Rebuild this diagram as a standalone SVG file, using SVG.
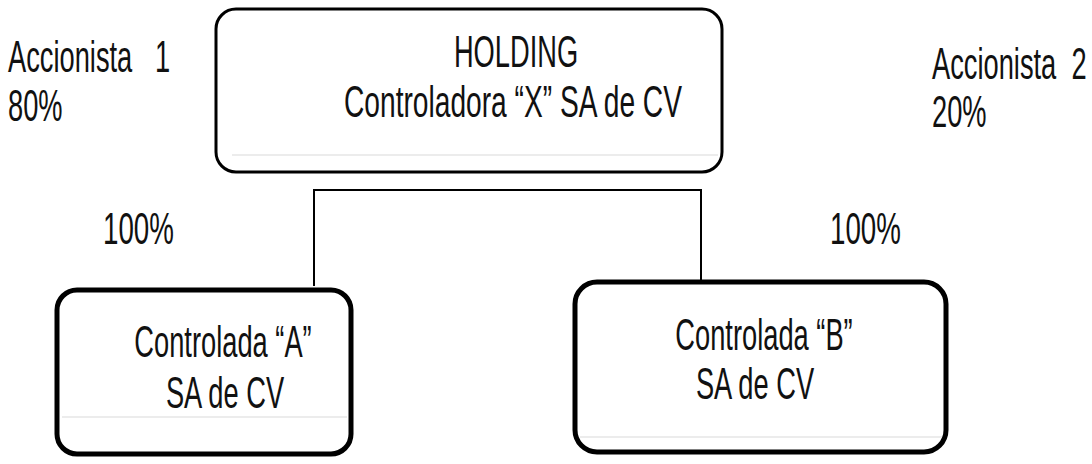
<svg xmlns="http://www.w3.org/2000/svg" width="1092" height="464" viewBox="0 0 1092 464">
<style>
text{font-family:"Liberation Sans",Arial,sans-serif;font-size:44px;fill:#111;white-space:pre}
.c{text-anchor:middle}
.box{fill:#fff;stroke:#000}
.conn{fill:none;stroke:#000;stroke-width:2}
.faint{stroke:#e6e6e6;stroke-width:1.5}
</style>
<rect width="1092" height="464" fill="#fff"/>
<g id="connectors">
<polyline class="conn" points="314,286 314,190 701,190 701,282"/>
</g>
<g id="holding">
<rect class="box" x="216" y="9" width="506" height="163" rx="20" stroke-width="3"/>
<line class="faint" x1="232" y1="155" x2="718" y2="155"/>
<text class="c" transform="translate(516,67) scale(0.62,1)">HOLDING</text>
<text class="c" transform="translate(513,117) scale(0.64,1)">Controladora “X” SA de CV</text>
</g>
<g id="controladaA">
<rect class="box" x="57" y="290" width="294" height="164" rx="20" stroke-width="5"/>
<line class="faint" x1="62" y1="417" x2="347" y2="417"/>
<text class="c" transform="translate(223,357) scale(0.62,1)">Controlada “A”</text>
<text class="c" transform="translate(225,408) scale(0.62,1)">SA de CV</text>
</g>
<g id="controladaB">
<rect class="box" x="575" y="282" width="371" height="170" rx="22" stroke-width="5"/>
<line class="faint" x1="580" y1="437" x2="942" y2="437"/>
<text class="c" transform="translate(764,350) scale(0.62,1)">Controlada “B”</text>
<text class="c" transform="translate(755,399) scale(0.62,1)">SA de CV</text>
</g>
<g id="labels">
<text transform="translate(8,72) scale(0.62,1)" xml:space="preserve">Accionista   1</text>
<text transform="translate(8,121) scale(0.62,1)">80%</text>
<text transform="translate(932,79) scale(0.62,1)" xml:space="preserve">Accionista  2</text>
<text transform="translate(932,127) scale(0.62,1)">20%</text>
<text transform="translate(103,244) scale(0.63,1)">100%</text>
<text transform="translate(830,244) scale(0.63,1)">100%</text>
</g>
</svg>
